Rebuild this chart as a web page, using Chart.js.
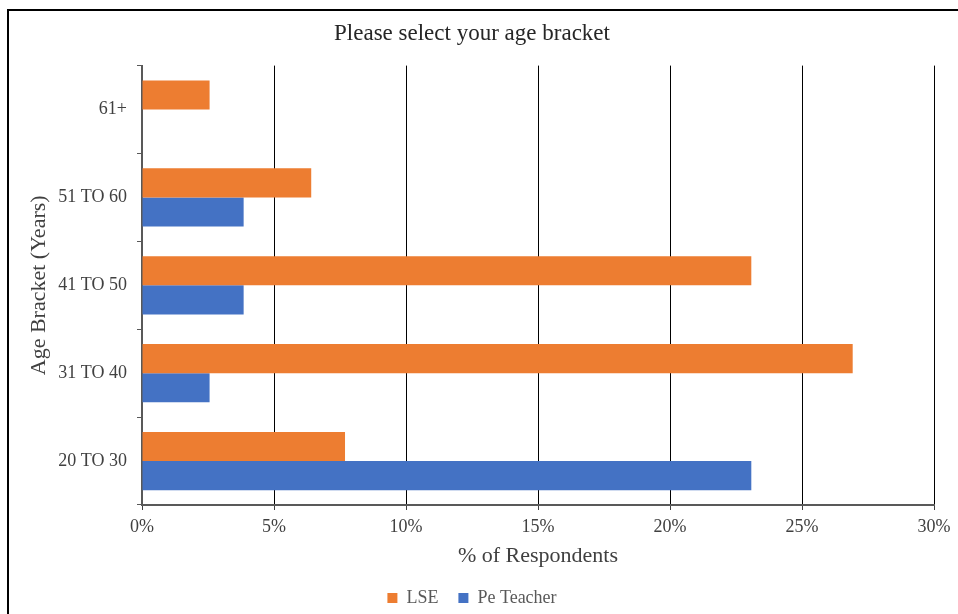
<!DOCTYPE html>
<html>
<head>
<meta charset="utf-8">
<script src="https://cdn.jsdelivr.net/npm/chart.js@4"></script>
<style>
  html, body { margin: 0; padding: 0; background: #fff; }
  #wrap { position: relative; width: 958px; height: 614px; }
  #frame { position: absolute; left: 7px; top: 9px; right: -5px; bottom: -5px;
           border-top: 2px solid #000; border-left: 2px solid #000; pointer-events: none; }
</style>
</head>
<body>
<div id="wrap">
  <canvas id="ageChart" width="958" height="614"></canvas>
  <div id="frame"></div>
</div>
<script>
// categories listed bottom to top, as in the picture
const ageBrackets = ['20 TO 30', '31 TO 40', '41 TO 50', '51 TO 60', '61+'];
const lseValues = [7.69, 26.92, 23.08, 6.41, 2.56];
const peTeacherValues = [23.08, 2.56, 3.85, 3.85, 0];
const xTicks = [0, 5, 10, 15, 20, 25, 30];

const serif = "'Liberation Serif', 'DejaVu Serif', serif";
const textColor = '#404040';

const ctx = document.getElementById('ageChart').getContext('2d');
new Chart(ctx, {
  type: 'bar',
  data: {
    labels: ageBrackets,
    datasets: [
      {
        label: 'LSE',
        data: lseValues,
        backgroundColor: '#ED7D31',
        borderWidth: 0,
        categoryPercentage: 0.662,
        barPercentage: 1.0
      },
      {
        label: 'Pe Teacher',
        data: peTeacherValues,
        backgroundColor: '#4472C4',
        borderWidth: 0,
        categoryPercentage: 0.662,
        barPercentage: 1.0
      }
    ]
  },
  options: {
    indexAxis: 'y',
    responsive: false,
    animation: false,
    layout: { padding: { left: 10, right: 24, top: 10, bottom: -3 } },
    plugins: {
      title: {
        display: true,
        text: 'Please select your age bracket',
        color: '#262626',
        font: { family: serif, size: 23, weight: 'normal' },
        padding: { top: 10, bottom: 18 }
      },
      legend: {
        position: 'bottom',
        labels: {
          color: '#595959',
          font: { family: serif, size: 18 },
          boxWidth: 10,
          boxHeight: 10,
          padding: 20
        }
      },
      tooltip: { enabled: false }
    },
    scales: {
      x: {
        min: 0,
        max: 30,
        afterBuildTicks: scale => { scale.ticks = xTicks.map(v => ({ value: v })); },
        afterFit: scale => { scale.height = 64; },
        ticks: {
          color: textColor,
          font: { family: serif, size: 18 },
          padding: 6,
          callback: v => v + '%'
        },
        grid: { color: '#000', lineWidth: 1, tickLength: 5, tickColor: '#404040' },
        border: { color: '#595959', width: 2 },
        title: {
          display: true,
          text: '% of Respondents',
          color: textColor,
          font: { family: serif, size: 22 },
          padding: { top: 0, bottom: 0 }
        }
      },
      y: {
        reverse: true,
        afterFit: scale => { scale.width = 132; },
        ticks: {
          color: textColor,
          font: { family: serif, size: 18 },
          padding: 10
        },
        grid: { drawOnChartArea: false, offset: true, tickLength: 5, color: '#595959', lineWidth: 1 },
        border: { color: '#595959', width: 2 },
        title: {
          display: true,
          text: 'Age Bracket (Years)',
          color: textColor,
          font: { family: serif, size: 22 },
          padding: { top: 16, bottom: 0 }
        }
      }
    }
  }
});
</script>
</body>
</html>
